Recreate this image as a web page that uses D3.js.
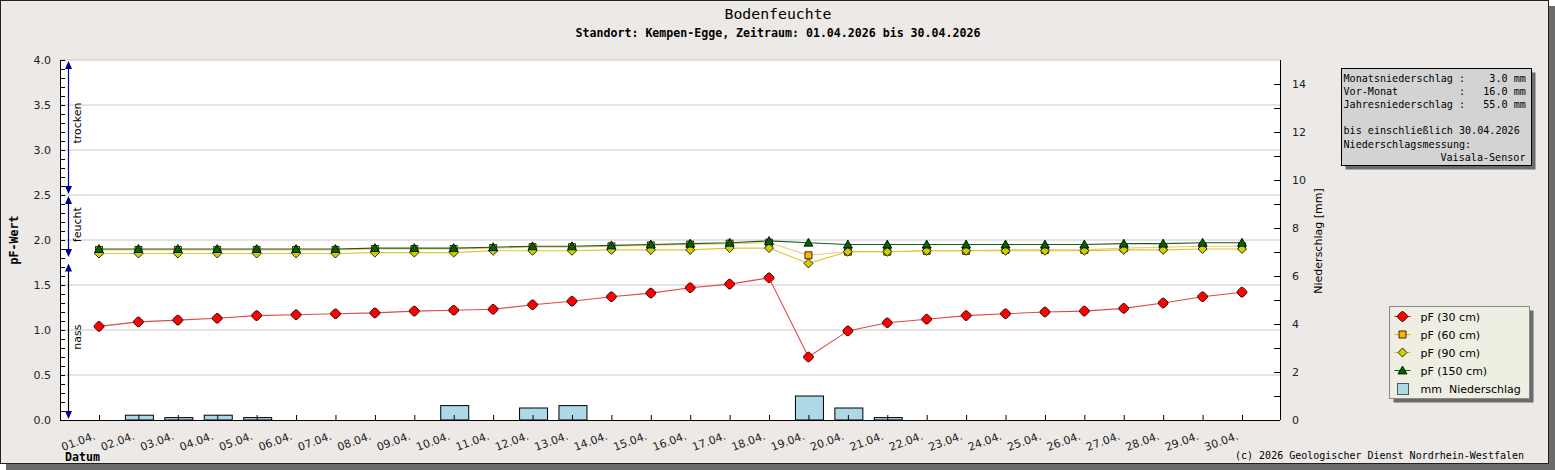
<!DOCTYPE html>
<html>
<head>
<meta charset="utf-8">
<script src="https://cdn.jsdelivr.net/npm/d3@7"></script>
<style>
  body { margin: 0; background: #ffffff; }
  svg { display: block; }
  text { font-family: "DejaVu Sans", sans-serif; }
</style>
</head>
<body>
<div id="chart"></div>
<script>
// dates on the x axis
const days = ['01.04.','02.04.','03.04.','04.04.','05.04.','06.04.','07.04.','08.04.','09.04.','10.04.',
  '11.04.','12.04.','13.04.','14.04.','15.04.','16.04.','17.04.','18.04.','19.04.','20.04.',
  '21.04.','22.04.','23.04.','24.04.','25.04.','26.04.','27.04.','28.04.','29.04.','30.04.'];

// pF values per depth
const pf30 = [1.04,1.09,1.11,1.13,1.16,1.17,1.18,1.19,1.21,1.22,1.23,1.28,1.32,1.37,1.41,1.47,1.51,1.58,0.70,0.99,
  1.08,1.12,1.16,1.18,1.20,1.21,1.24,1.30,1.37,1.42];
const pf60 = [1.89,1.89,1.89,1.89,1.89,1.89,1.89,1.90,1.90,1.90,1.91,1.92,1.92,1.93,1.94,1.95,1.96,1.97,1.83,1.87,
  1.87,1.88,1.88,1.89,1.89,1.89,1.91,1.92,1.93,1.93];
const pf90 = [1.85,1.85,1.85,1.85,1.85,1.85,1.85,1.86,1.86,1.86,1.88,1.88,1.88,1.89,1.89,1.89,1.91,1.91,1.74,1.87,
  1.87,1.88,1.88,1.88,1.88,1.88,1.89,1.89,1.90,1.90];
const pf150 = [1.90,1.90,1.90,1.90,1.90,1.90,1.90,1.91,1.91,1.91,1.92,1.93,1.93,1.94,1.95,1.96,1.97,1.99,1.97,1.95,
  1.95,1.95,1.95,1.95,1.95,1.95,1.96,1.96,1.97,1.97];

// daily rain in mm
const rain = [0,0.2,0.1,0.2,0.1,0,0,0,0,0.6,0,0.5,0.6,0,0,0,0,0,1.0,0.5,0.1,0,0,0,0,0,0,0,0,0];

// info box lines
const infoLines = [
  'Monatsniederschlag :    3.0 mm',
  'Vor-Monat          :   16.0 mm',
  'Jahresniederschlag :   55.0 mm',
  '',
  'bis einschließlich 30.04.2026',
  'Niederschlagsmessung:'
];
const infoLast = 'Vaisala-Sensor';

// soil zones on the left
const zones = [
  {name: 'trocken', from: 2.5, to: 4.0},
  {name: 'feucht', from: 1.8, to: 2.5},
  {name: 'nass', from: 0.0, to: 1.75}
];

const W = 1555, H = 470;
const plot = {left: 60, right: 1280, top: 60, bottom: 420};
const mono = '"DejaVu Sans Mono", monospace';

const svg = d3.select('#chart').append('svg')
  .attr('width', W)
  .attr('height', H);

// frame with shadow
svg.append('rect').attr('x', 6).attr('y', 6).attr('width', W - 6).attr('height', H - 6).attr('fill', '#6b6b6b');
svg.append('rect').attr('x', 0.5).attr('y', 0.5).attr('width', 1548).attr('height', 463)
  .attr('fill', '#ece9e7').attr('stroke', '#222');

svg.append('rect')
  .attr('x', plot.left).attr('y', plot.top)
  .attr('width', plot.right - plot.left).attr('height', plot.bottom - plot.top)
  .attr('fill', '#fff');

// scales
const x = d3.scalePoint().domain(days).range([99, 1242]);
const y = d3.scaleLinear().domain([0, 4]).range([plot.bottom, plot.top]);
const yR = d3.scaleLinear().domain([0, 15]).range([plot.bottom, plot.top]);

// grid
svg.append('g').selectAll('line')
  .data(d3.range(0.5, 4.01, 0.5))
  .enter().append('line')
  .attr('x1', plot.left).attr('x2', plot.right)
  .attr('y1', d => y(d)).attr('y2', d => y(d))
  .attr('stroke', '#c8c8c8');

// rain bars
svg.append('g').selectAll('rect')
  .data(rain.map((v, i) => ({day: days[i], v: v})).filter(d => d.v > 0))
  .enter().append('rect')
  .attr('x', d => x(d.day) - 13)
  .attr('y', d => yR(d.v))
  .attr('width', 28)
  .attr('height', d => yR(0) - yR(d.v))
  .attr('fill', '#add8e6')
  .attr('stroke', '#000')
  .attr('stroke-width', 1);

// left axis
const yAxis = d3.axisLeft(y).tickValues(d3.range(0, 4.01, 0.5)).tickFormat(d3.format('.1f')).tickSize(-5).tickPadding(9);
const gL = svg.append('g').attr('transform', 'translate(' + plot.left + ',0)').call(yAxis);
gL.selectAll('line').attr('stroke', '#000');
gL.select('.domain').attr('stroke', '#000').attr('d', 'M0.5,' + plot.top + 'V' + plot.bottom);
gL.selectAll('text').attr('font-size', 11).attr('fill', '#222');
svg.append('g').attr('transform', 'translate(' + plot.left + ',0)')
  .call(d3.axisLeft(y).tickValues(d3.range(0, 4.01, 0.1)).tickSize(-5).tickFormat(''))
  .call(g => g.select('.domain').remove())
  .selectAll('line').attr('stroke', '#000');

// right axis
const yRAxis = d3.axisRight(yR).tickValues(d3.range(0, 15, 2)).tickSize(-6).tickPadding(12);
const gR = svg.append('g').attr('transform', 'translate(' + plot.right + ',0)').call(yRAxis);
gR.select('.domain').attr('stroke', '#000').attr('d', 'M0.5,' + plot.top + 'V' + plot.bottom);
gR.selectAll('line').attr('stroke', '#000');
gR.selectAll('text').attr('font-size', 11).attr('fill', '#222');
svg.append('g').attr('transform', 'translate(' + plot.right + ',0)')
  .call(d3.axisRight(yR).tickValues(d3.range(1, 15, 2)).tickSize(-6).tickFormat(''))
  .call(g => g.select('.domain').remove())
  .selectAll('line').attr('stroke', '#000');

// x axis
const xAxis = d3.axisBottom(x).tickSize(-5).tickFormat('');
const gX = svg.append('g').attr('transform', 'translate(0,' + plot.bottom + ')').call(xAxis);
gX.select('.domain').attr('stroke', '#000').attr('d', 'M' + plot.left + ',0.5H' + plot.right);
gX.selectAll('line').attr('stroke', '#000');
svg.append('g').selectAll('text')
  .data(days)
  .enter().append('text')
  .attr('transform', d => 'translate(' + (x(d) - 3) + ',' + (plot.bottom + 19) + ') rotate(-20)')
  .attr('text-anchor', 'end')
  .attr('font-size', 11)
  .attr('fill', '#222')
  .text(d => d);

// zone arrows
const zx = 68.5;
zones.forEach(z => {
  svg.append('line')
    .attr('x1', zx).attr('x2', zx)
    .attr('y1', y(z.to) + 3).attr('y2', y(z.from) - 3)
    .attr('stroke', z.name === 'nass' ? '#000' : '#00008b')
    .attr('stroke-width', 1.2);
  const up = y(z.to) + 1, dn = y(z.from) - 1;
  svg.append('path')
    .attr('d', 'M' + zx + ',' + up + 'l-3.5,8h7z')
    .attr('fill', '#00008b');
  svg.append('path')
    .attr('d', 'M' + zx + ',' + dn + 'l-3.5,-8h7z')
    .attr('fill', '#00008b');
});
svg.append('text').attr('transform', 'translate(' + 81 + ',' + y(3.3) + ') rotate(-90)')
  .attr('text-anchor', 'middle').attr('font-size', 11).text('trocken');
svg.append('text').attr('transform', 'translate(' + 81 + ',' + y(2.17) + ') rotate(-90)')
  .attr('text-anchor', 'middle').attr('font-size', 11).text('feucht');
svg.append('text').attr('transform', 'translate(' + 81 + ',' + y(0.92) + ') rotate(-90)')
  .attr('text-anchor', 'middle').attr('font-size', 11).text('nass');

// series
const series = [
  {name: 'pF (60 cm)', data: pf60, line: '#f3c86a', fill: '#ffb400', shape: 'square'},
  {name: 'pF (90 cm)', data: pf90, line: '#d8c830', fill: '#d0d000', shape: 'diamond'},
  {name: 'pF (150 cm)', data: pf150, line: '#1f5a1f', fill: '#006400', shape: 'triangle'},
  {name: 'pF (30 cm)', data: pf30, line: '#e04848', fill: '#ff0000', shape: 'bigdiamond'}
];

function marker(shape) {
  if (shape === 'square') return 'M-3.5,-3.5h7v7h-7z';
  if (shape === 'diamond') return 'M0,-4.5L4.5,0L0,4.5L-4.5,0z';
  if (shape === 'bigdiamond') return 'M-1,-4.8H1L4.8,-1V1L1,4.8H-1L-4.8,1V-1z';
  return 'M0,-4.5L4.5,3.5H-4.5z';
}

const line = d3.line().x(d => x(d.day)).y(d => y(d.v));
series.forEach(s => {
  const pts = s.data.map((v, i) => ({day: days[i], v: v}));
  svg.append('path').datum(pts)
    .attr('d', line)
    .attr('fill', 'none')
    .attr('stroke', s.line)
    .attr('stroke-width', 1.1);
  svg.append('g').selectAll('path')
    .data(pts)
    .enter().append('path')
    .attr('transform', d => 'translate(' + x(d.day) + ',' + y(d.v) + ')')
    .attr('d', marker(s.shape))
    .attr('fill', s.fill)
    .attr('stroke', '#000')
    .attr('stroke-width', 0.8);
});

// titles
svg.append('text').attr('x', 778).attr('y', 19).attr('text-anchor', 'middle')
  .style('font-family', mono).attr('font-size', 14.8)
  .text('Bodenfeuchte');
svg.append('text').attr('x', 778).attr('y', 37).attr('text-anchor', 'middle')
  .style('font-family', mono).attr('font-size', 11.6).attr('font-weight', 'bold')
  .text('Standort: Kempen-Egge, Zeitraum: 01.04.2026 bis 30.04.2026');

svg.append('text').attr('transform', 'translate(18,240) rotate(-90)').attr('text-anchor', 'middle')
  .style('font-family', mono).attr('font-size', 11.6).attr('font-weight', 'bold')
  .text('pF-Wert');
svg.append('text').attr('transform', 'translate(1322,241) rotate(-90)').attr('text-anchor', 'middle')
  .attr('font-size', 11).text('Niederschlag [mm]');
svg.append('text').attr('x', 65).attr('y', 461)
  .style('font-family', mono).attr('font-size', 11.6).attr('font-weight', 'bold')
  .text('Datum');
svg.append('text').attr('x', 1524).attr('y', 459).attr('text-anchor', 'end')
  .style('font-family', mono).attr('font-size', 10)
  .text('(c) 2026 Geologischer Dienst Nordrhein-Westfalen');

// info box
const ib = {x: 1341.5, y: 68.5, w: 190, h: 97};
svg.append('rect').attr('x', ib.x + 4).attr('y', ib.y + 4).attr('width', ib.w).attr('height', ib.h).attr('fill', '#6b6b6b');
svg.append('rect').attr('x', ib.x).attr('y', ib.y).attr('width', ib.w).attr('height', ib.h)
  .attr('fill', '#d3d3d3').attr('stroke', '#000');
svg.append('g').selectAll('text')
  .data(infoLines)
  .enter().append('text')
  .attr('x', ib.x + 2).attr('y', (d, i) => ib.y + 13 + i * 13.2)
  .style('font-family', mono).attr('font-size', 10.1)
  .attr('fill', '#000')
  .style('white-space', 'pre')
  .text(d => d);
svg.append('text').attr('x', ib.x + ib.w - 6).attr('y', ib.y + 13 + 6 * 13.2).attr('text-anchor', 'end')
  .style('font-family', mono).attr('font-size', 10.1)
  .text(infoLast);

// legend
const lg = {x: 1389.5, y: 306.5, w: 140, h: 92};
svg.append('rect').attr('x', lg.x + 4).attr('y', lg.y + 4).attr('width', lg.w).attr('height', lg.h).attr('fill', '#6b6b6b');
svg.append('rect').attr('x', lg.x).attr('y', lg.y).attr('width', lg.w).attr('height', lg.h)
  .attr('fill', '#eeeee2').attr('stroke', '#888');
const legendItems = [series[3], series[0], series[1], series[2]];
legendItems.forEach((s, i) => {
  const cy = lg.y + 10 + i * 18;
  svg.append('line').attr('x1', lg.x + 5).attr('x2', lg.x + 21).attr('y1', cy).attr('y2', cy)
    .attr('stroke', s.shape === 'triangle' ? '#006400' : s.fill).attr('stroke-width', 1);
  svg.append('path').attr('transform', 'translate(' + (lg.x + 13) + ',' + cy + ')')
    .attr('d', marker(s.shape)).attr('fill', s.fill).attr('stroke', '#000').attr('stroke-width', 0.8);
  svg.append('text').attr('x', lg.x + 31).attr('y', cy + 4).attr('font-size', 11).text(s.name);
});
const rcy = lg.y + 10 + 4 * 18;
svg.append('rect').attr('x', lg.x + 8).attr('y', rcy - 5).attr('width', 11).attr('height', 11)
  .attr('fill', '#add8e6').attr('stroke', '#555');
svg.append('text').attr('x', lg.x + 31).attr('y', rcy + 4).attr('font-size', 11)
  .style('white-space', 'pre').text('mm  Niederschlag');
</script>
</body>
</html>
